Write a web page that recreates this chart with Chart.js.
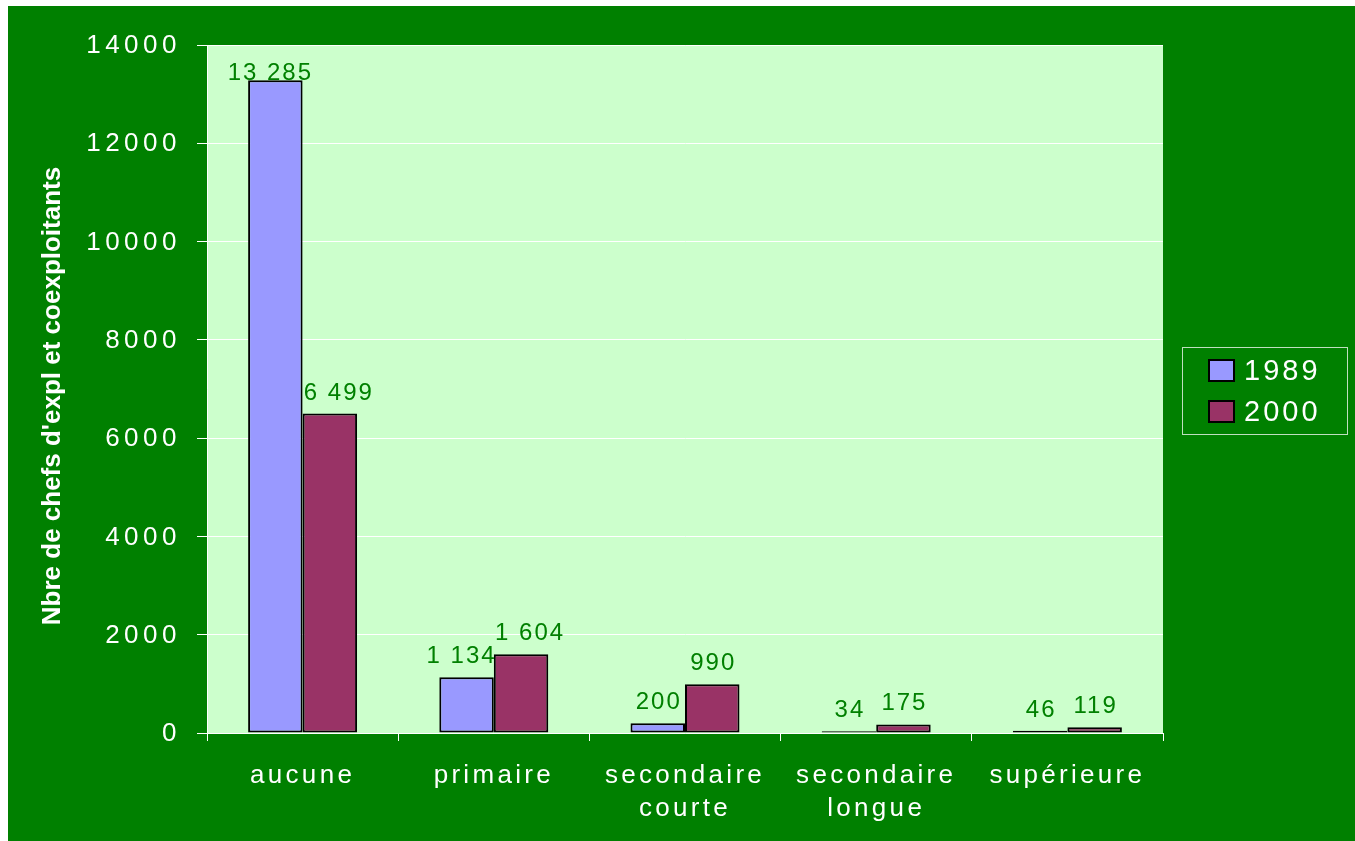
<!DOCTYPE html>
<html><head><meta charset="utf-8">
<script src="https://cdn.jsdelivr.net/npm/chart.js@4.4.1/dist/chart.umd.min.js"></script>
<style>html,body{margin:0;padding:0;background:#fff;overflow:hidden}#wrap{width:1355px;height:841px;position:relative}</style>
</head><body><div id="wrap"><canvas id="c" width="1355" height="841"></canvas></div>
<script>
const categories = [['aucune'], ['primaire'], ['secondaire', 'courte'], ['secondaire', 'longue'], ['supérieure']];
const seriesNames = ['1989', '2000'];
const values1989 = [13285, 1134, 200, 34, 46];
const values2000 = [6499, 1604, 990, 175, 119];
const yTicks = [0, 2000, 4000, 6000, 8000, 10000, 12000, 14000];
const yTitle = "Nbre de chefs d'expl et coexploitants";

const FONT = "'Liberation Sans', Arial, sans-serif";
const fmt = v => String(v).replace(/\B(?=(\d{3})+(?!\d))/g, ' ');

const decor = {
  id: 'decor',
  beforeDraw(chart) {
    const ctx = chart.ctx, a = chart.chartArea;
    ctx.save();
    ctx.fillStyle = '#ffffff';
    ctx.fillRect(0, 0, chart.width, chart.height);
    ctx.fillStyle = '#008000';
    ctx.fillRect(8, 6, chart.width - 8, chart.height - 6);
    ctx.fillStyle = '#CCFFCC';
    ctx.fillRect(a.left, a.top, a.right - a.left, a.bottom - a.top);
    ctx.restore();
    ctx.letterSpacing = '0px';
  },
  afterDatasetsDraw(chart) {
    const ctx = chart.ctx, a = chart.chartArea;
    ctx.save();
    // y tick labels
    const ys = chart.scales.y;
    ctx.letterSpacing = '4.5px';
    ctx.font = '26px ' + FONT;
    ctx.fillStyle = '#ffffff';
    ctx.textAlign = 'right';
    ctx.textBaseline = 'middle';
    yTicks.forEach(v => {
      ctx.fillText(String(v), a.left - 26, ys.getPixelForValue(v) + 1);
    });
    // x tick labels
    const xs = chart.scales.x;
    ctx.letterSpacing = '3.3px';
    ctx.font = '26px ' + FONT;
    ctx.textAlign = 'center';
    categories.forEach((lines, i) => {
      const x = xs.getPixelForValue(i);
      lines.forEach((t, k) => {
        ctx.fillText(t, x + 0, a.bottom + 43 + k * 33);
      });
    });
    // data labels
    ctx.letterSpacing = '2px';
    ctx.font = '24px ' + FONT;
    ctx.fillStyle = '#008000';
    ctx.textAlign = 'center';
    ctx.textBaseline = 'alphabetic';
    chart.data.datasets.forEach((ds, di) => {
      chart.getDatasetMeta(di).data.forEach((bar, i) => {
        const txt = fmt(ds.data[i]);
        const w = ctx.measureText(txt).width;
        const nudge = w > bar.width + 4 ? (di === 0 ? -6 : 8) : 0;
        const y = Math.max(bar.y - 14, a.top + 35);
        ctx.fillText(txt, bar.x + 1 + nudge, y);
      });
    });
    ctx.restore();
  },
  afterDraw(chart) {
    const ctx = chart.ctx, a = chart.chartArea;
    ctx.save();
    ctx.letterSpacing = '0px';
    // y axis title
    ctx.translate(53, (a.top + a.bottom) / 2 + 7);
    ctx.rotate(-Math.PI / 2);
    ctx.font = 'bold 26px ' + FONT;
    ctx.fillStyle = '#ffffff';
    ctx.textAlign = 'center';
    ctx.textBaseline = 'middle';
    ctx.fillText(yTitle, 0, 0);
    ctx.restore();
    // legend
    ctx.save();
    const bx = a.right + 19, by = 347, bw = 165, bh = 87;
    ctx.strokeStyle = 'rgba(255,255,255,0.75)';
    ctx.lineWidth = 1;
    ctx.strokeRect(bx + 0.5, by + 0.5, bw, bh);
    ctx.letterSpacing = '3px';
    ctx.font = '29px ' + FONT;
    ctx.textBaseline = 'middle';
    ctx.textAlign = 'left';
    chart.data.datasets.forEach((ds, i) => {
      const sy = by + 13 + i * 41;
      ctx.fillStyle = ds.backgroundColor;
      ctx.fillRect(bx + 27, sy, 25, 21);
      ctx.strokeStyle = '#000';
      ctx.lineWidth = 2;
      ctx.strokeRect(bx + 27, sy, 25, 21);
      ctx.fillStyle = '#ffffff';
      ctx.fillText(ds.label, bx + 62, sy + 12);
    });
    ctx.restore();
  }
};

new Chart(document.getElementById('c'), {
  type: 'bar',
  data: {
    labels: categories,
    datasets: [
      { label: seriesNames[0], data: values1989, backgroundColor: '#9999FF', borderColor: '#000000', borderWidth: 2, borderSkipped: false },
      { label: seriesNames[1], data: values2000, backgroundColor: '#993366', borderColor: '#000000', borderWidth: 2, borderSkipped: false }
    ]
  },
  options: {
    responsive: false,
    animation: false,
    devicePixelRatio: 1,
    layout: { padding: { left: 8, top: 45, right: 192, bottom: 0 } },
    datasets: { bar: { categoryPercentage: 0.57, barPercentage: 1.0 } },
    plugins: { legend: { display: false }, tooltip: { enabled: false } },
    scales: {
      x: {
        afterFit(s) { s.height = 108; },
        grid: { offset: true, drawOnChartArea: false, drawTicks: true, tickLength: 8, color: '#ffffff', lineWidth: 1 },
        border: { display: true, color: '#ffffff', width: 1 },
        ticks: { display: false, autoSkip: false, maxRotation: 0 }
      },
      y: {
        min: 0, max: 14000,
        afterFit(s) { s.width = 199; },
        afterBuildTicks(s) { s.ticks = yTicks.map(v => ({ value: v })); },
        grid: { color: '#ffffff', lineWidth: 1, tickLength: 10, drawTicks: true },
        border: { display: true, color: '#ffffff', width: 1 },
        ticks: { display: false }
      }
    }
  },
  plugins: [decor]
});
</script>
</body></html>
